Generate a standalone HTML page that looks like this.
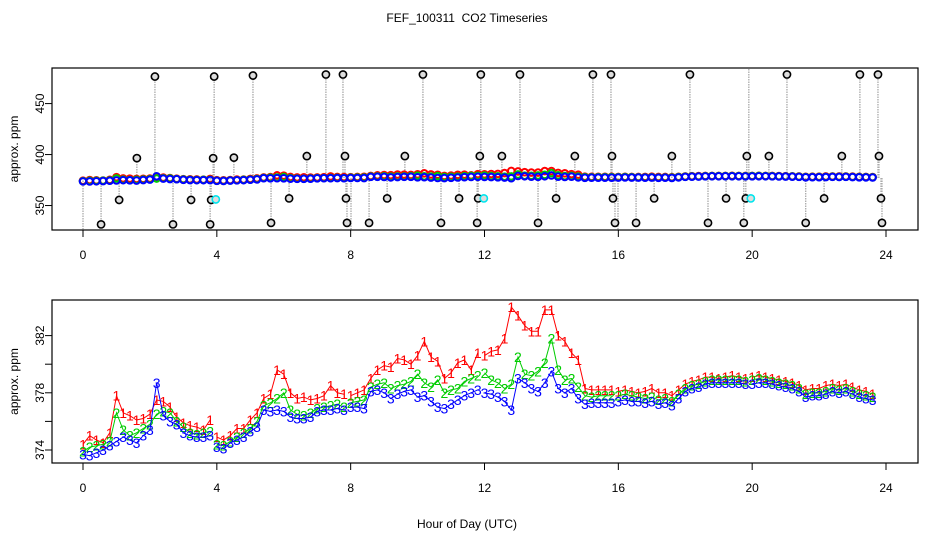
<!DOCTYPE html>
<html><head><meta charset="utf-8"><title>FEF_100311 CO2 Timeseries</title>
<style>
html,body{margin:0;padding:0;background:#fff;}
svg{display:block;font-family:"Liberation Sans",Arial,sans-serif;}
.pre{white-space:pre;}
</style></head>
<body>
<svg id="chart" width="936" height="540" viewBox="0 0 936 540">
<text class="pre" x="467" y="22" font-size="12" text-anchor="middle">FEF_100311  CO2 Timeseries</text>
<text x="467" y="528" font-size="12" text-anchor="middle">Hour of Day (UTC)</text>
<g id="topPanel"></g>
<g id="botPanel"></g>
</svg>
<script>
// ---- data ----
var xTicks = [0,4,8,12,16,20,24];
var topYTicks = [350,400,450];
var botYTicks = [374,376,378,380,382];
var botYLabels = [374,378,382];
var hourStep = 0.2;
var series3 = [
373.7,373.6,373.8,374.0,374.3,374.6,374.9,374.7,374.5,375.0,375.4,378.7,376.4,376.0,375.8,375.2,375.0,374.9,374.9,375.0,
374.2,374.1,374.5,374.7,374.9,375.3,375.6,376.8,376.7,376.8,376.7,376.3,376.2,376.2,376.3,376.7,376.8,376.8,376.9,376.8,
377.0,377.0,376.9,378.1,378.2,378.0,377.6,377.9,378.1,378.2,377.7,377.8,377.4,377.0,376.9,377.2,377.5,377.8,378.0,378.2,
378.0,377.9,377.7,377.4,376.8,379.0,378.7,378.3,378.1,378.7,379.5,378.3,378.0,378.3,377.6,377.2,377.3,377.3,377.3,377.3,
377.4,377.5,377.4,377.4,377.3,377.4,377.2,377.3,377.1,377.6,378.1,378.3,378.4,378.6,378.7,378.7,378.7,378.7,378.7,378.6,
378.6,378.7,378.7,378.6,378.5,378.4,378.3,378.1,377.7,377.8,377.8,377.9,378.1,378.0,378.1,377.9,377.7,377.6,377.5,null];
var series2 = [
373.9,374.2,374.3,374.4,374.6,376.6,375.4,375.0,375.2,375.5,375.8,376.5,376.7,376.6,376.0,375.6,375.2,375.1,375.2,375.3,
374.4,374.3,374.6,374.9,375.2,375.5,376.0,377.1,377.3,377.6,378.0,376.8,376.5,376.4,376.6,376.9,377.0,377.1,377.2,377.0,
377.3,377.4,377.5,378.4,378.6,378.7,378.3,378.5,378.6,378.8,379.3,378.7,378.4,378.9,378.0,378.2,378.3,378.8,379.0,379.2,
379.4,378.9,378.7,378.3,378.6,380.5,379.3,379.2,379.5,380.1,381.8,379.6,378.9,379.0,378.4,377.8,377.7,377.8,377.8,377.8,
377.8,377.9,377.8,377.7,377.6,377.7,377.5,377.6,377.4,377.9,378.3,378.5,378.6,378.8,378.9,378.9,378.9,378.9,378.9,378.8,
378.9,379.0,378.9,378.8,378.7,378.6,378.5,378.3,377.9,378.0,378.0,378.1,378.3,378.2,378.3,378.1,377.9,377.8,377.7,null];
var series1 = [
374.4,375.0,374.7,374.5,375.2,377.8,376.6,376.4,376.1,376.2,376.5,377.5,377.4,377.0,376.3,375.9,375.7,375.6,375.4,376.1,
374.9,374.7,375.0,375.5,375.5,376.1,376.6,377.6,377.9,379.6,379.3,378.0,377.6,377.7,377.5,377.6,377.8,378.5,378.0,377.9,
377.8,378.0,378.2,379.0,379.6,379.9,379.8,380.4,380.3,380.0,380.6,381.6,380.5,380.2,379.0,379.4,380.1,380.3,379.6,380.8,
380.6,380.9,381.0,381.8,384.0,383.4,382.7,382.3,382.3,383.8,383.8,382.0,381.6,380.8,380.3,378.3,378.2,378.2,378.2,378.2,
378.1,378.2,378.1,378.0,378.1,378.3,378.0,378.0,377.8,378.2,378.6,378.8,378.9,379.1,379.1,379.0,379.1,379.2,379.1,379.0,
379.1,379.2,379.1,379.0,378.9,378.8,378.7,378.5,378.2,378.3,378.3,378.5,378.6,378.5,378.6,378.4,378.2,378.1,377.9,null];
var outlierHours = [0.00,0.54,1.08,1.61,2.15,2.69,3.23,3.80,3.83,3.89,3.92,
4.51,5.08,5.62,6.16,6.69,7.26,7.77,7.83,7.86,7.89,8.01,
8.55,9.09,9.62,10.16,10.70,11.24,11.78,11.81,11.86,11.89,
12.52,13.06,13.60,14.14,14.70,15.24,15.78,15.81,15.84,15.90,15.99,
16.53,17.07,17.60,18.14,18.68,19.22,19.75,19.81,19.84,19.90,
20.50,21.04,21.60,22.15,22.68,23.22,23.76,23.79,23.85,23.88];
var outlierValues = [300,331.5,355.5,396.5,476.5,331.5,355.5,331.5,355.5,396.5,476.5,
397,477.5,333,357,398.5,478.5,478.5,398.5,357,333,300,
333,357,398.5,478.5,333,357,333,357,398.5,478.5,
398.5,478.5,333,357,398.5,478.5,478.5,398.5,357,333,300,
333,357,398.5,478.5,333,357,333,357,398.5,500,
398.5,478.5,333,357,398.5,478.5,478.5,398.5,357,333];
var cyanHours = [3.97,11.98,19.96];
var cyanValues = [356,357,357];

// ---- layout ----
var NS = "http://www.w3.org/2000/svg";
var L = 52, R = 918;
var pTop = {y0:68, y1:230, vmin:326, vmax:484.9};
var pBot = {y0:300, y1:463, vmin:373.09, vmax:384.49};
function xs(h){ return 83 + h*(886-83)/24; }
function ysFor(p){ return function(v){ return p.y1 - (v-p.vmin)/(p.vmax-p.vmin)*(p.y1-p.y0); }; }
var yTop = ysFor(pTop), yBot = ysFor(pBot);
function el(tag, attrs, parent){ var e=document.createElementNS(NS,tag); for(var k in attrs) e.setAttribute(k,attrs[k]); parent.appendChild(e); return e; }

function frame(g, p, yscale, yticks, ylabels, clipId){
  var defs = el('defs',{},g);
  var cp = el('clipPath',{id:clipId},defs);
  el('rect',{x:L,y:p.y0,width:R-L,height:p.y1-p.y0},cp);
  var box = el('rect',{x:L,y:p.y0,width:R-L,height:p.y1-p.y0,fill:'none',stroke:'#000','stroke-width':1.2},g);
  
  
  xTicks.forEach(function(t){
    var x = xs(t);
    var tk = el('line',{x1:x,x2:x,y1:p.y1,y2:p.y1+7,stroke:'#000','stroke-width':1},g);
    
    
    var tx = el('text',{x:x,y:p.y1+29,'font-size':12,'text-anchor':'middle'},g);
    
    
    tx.textContent = t;
  });
  yticks.forEach(function(t){
    var y = yscale(t);
    var tk = el('line',{x1:L-7,x2:L,y1:y,y2:y,stroke:'#000','stroke-width':1},g);
    
    
  });
  ylabels.forEach(function(t){
    var y = yscale(t);
    var tx = el('text',{x:0,y:0,'font-size':12,'text-anchor':'middle',transform:'translate(44,'+y+') rotate(-90)'},g);
    
    
    tx.textContent = t;
  });
  var yt = el('text',{x:0,y:0,'font-size':12,'text-anchor':'middle',transform:'translate(18,'+((p.y0+p.y1)/2)+') rotate(-90)'},g);
  
  
  yt.textContent = 'approx. ppm';
}

// ---- top panel ----
var gT = document.getElementById('topPanel');
frame(gT, pTop, yTop, topYTicks, topYTicks, 'clipTop');
var cT = el('g',{'clip-path':'url(#clipTop)'},gT);


outlierHours.forEach(function(h,i){
  var x = xs(h);
  var ln = el('line',{x1:x,x2:x,y1:yTop(377),y2:yTop(outlierValues[i]),stroke:'#aaa','stroke-width':1.3,'stroke-dasharray':'1.5,1'},cT);
  
  
});
[[series1,'#ff0000'],[series2,'#00cc00'],[series3,'#0000ff']].forEach(function(s,si){
  s[0].forEach(function(v,i){
    if(v===null) return;
    var c = el('circle',{cx:xs(i*hourStep),cy:yTop(v),r:3.3,fill:'none',stroke:s[1],'stroke-width':2},cT);
    
    
  });
});
outlierHours.forEach(function(h,i){
  var c = el('circle',{cx:xs(h),cy:yTop(outlierValues[i]),r:3.6,fill:'#ddd',stroke:'#000','stroke-width':1.6},cT);
  
  
});
cyanHours.forEach(function(h,i){
  var c = el('circle',{cx:xs(h),cy:yTop(cyanValues[i]),r:3.6,fill:'#ddd',stroke:'#00e5ee','stroke-width':1.6},cT);
  
  
});

// ---- bottom panel ----
var gB = document.getElementById('botPanel');
frame(gB, pBot, yBot, botYTicks, botYLabels, 'clipBot');
var cB = el('g',{'clip-path':'url(#clipBot)'},gB);


[[series1,'#ff0000','1'],[series2,'#00cc00','2'],[series3,'#0000ff','3']].forEach(function(s,si){
  var d = '', prevBlock = -1;
  s[0].forEach(function(v,i){
    if(v===null){ prevBlock=-1; return; }
    var h = i*hourStep, blk = Math.floor(h/4+1e-6);
    d += (blk===prevBlock ? 'L' : 'M') + xs(h).toFixed(1) + ',' + yBot(v).toFixed(1) + ' ';
    prevBlock = blk;
  });
  var pth = el('path',{d:d,fill:'none',stroke:s[1],'stroke-width':1},cB);
  
  
  s[0].forEach(function(v,i){
    if(v===null) return;
    var t = el('text',{x:xs(i*hourStep),y:yBot(v)+5,'font-size':14,'text-anchor':'middle',fill:s[1]},cB);
    
    
    t.textContent = s[2];
  });
});
</script>
</body></html>
